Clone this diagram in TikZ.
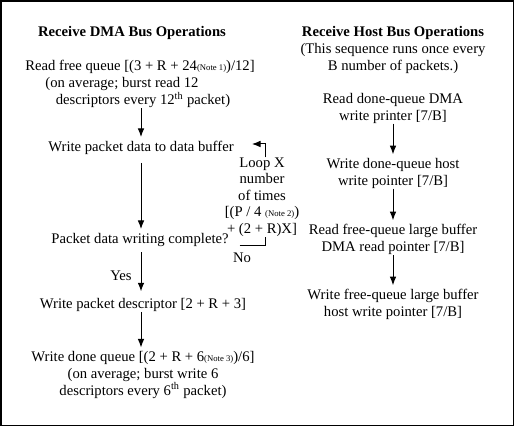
\documentclass[tikz,border=0pt]{standalone}
\usepackage{fontspec}
\setmainfont{Liberation Serif}
\usetikzlibrary{arrows.meta}
\newcommand{\notetxt}[1]{{\fontsize{6.5}{7}\selectfont(Note #1)}}
\begin{document}
\begin{tikzpicture}[x=0.75pt,y=-0.75pt,
  every node/.style={font=\fontsize{11}{12.4}\selectfont, inner sep=0pt, align=center},
  ttl/.style={font=\fontsize{11}{12.4}\selectfont\bfseries},
  arr/.style={line width=0.75pt, -{Latex[length=6.5pt,width=5pt]}},
  ln/.style={line width=0.75pt}]
\useasboundingbox (0,0) rectangle (516,427);
\draw[line width=1.1pt] (0.8,0.8) rectangle (513.5,425.5);
% left column
\node[ttl] (dmaT) at (132,33) {Receive DMA Bus Operations};
\node (rfqa) at (140,67) {Read free queue [(3 + R + 24\notetxt{1})/12]};
\node (rfqb) at (122,84) {(on average; burst read 12};
\node (rfqc) at (143,100) {descriptors every 12\textsuperscript{th} packet)};
\node (wpd) at (141,148) {Write packet data to data buffer};
\node (pdc) at (140,240) {Packet data writing complete?};
\node (loop) at (262,197) {Loop X\\number\\of times\\{[}(P / 4 \notetxt{2})\\+ (2 + R)X{]}};
\node (no) at (242,258) {No};
\node (yes) at (121,276) {Yes};
\node (wpdesc) at (143,305) {Write packet descriptor [2 + R + 3]};
\node (wdq) at (143,375) {Write done queue [(2 + R + 6\notetxt{3})/6]\\(on average; burst write 6\\descriptors every 6\textsuperscript{th} packet)};
% right column
\node[ttl] (hostT) at (393,33) {Receive Host Bus Operations};
\node (hostS) at (393,58.5) {(This sequence runs once every\\B number of packets.)};
\node (rdq) at (393,108.5) {Read done-queue DMA\\write printer [7/B]};
\node (wdh) at (393,173.5) {Write done-queue host\\write pointer [7/B]};
\node (rfl) at (393,239.5) {Read free-queue large buffer\\DMA read pointer [7/B]};
\node (wfl) at (393,304.5) {Write free-queue large buffer\\host write pointer [7/B]};
% left connectors
\draw[arr] (rfqc.south -| wpd.north) -- ([yshift=3pt]wpd.north);
\draw[arr] ([yshift=-6pt]wpd.south) -- ([yshift=3pt]pdc.north -| wpd.south);
\draw[arr] ([yshift=-4pt]pdc.south -| wpd.south) -- ([yshift=5pt]wpdesc.north -| wpd.south);
\draw[arr] (wpdesc.south -| wpd.south) -- ([yshift=3pt]wdq.north -| wpd.south);
\draw[ln] ([xshift=8pt,yshift=-4pt]pdc.east) -| ([xshift=2.25pt]loop.south);
\draw[arr] ([xshift=2.25pt]loop.north) |- ([xshift=13.5pt,yshift=3pt]wpd.east);
% right connectors
\draw[arr] (rdq.south) -- ([yshift=3pt]wdh.north);
\draw[arr] (wdh.south) -- ([yshift=3pt]rfl.north);
\draw[arr] (rfl.south) -- ([yshift=3pt]wfl.north);
\end{tikzpicture}
\end{document}
